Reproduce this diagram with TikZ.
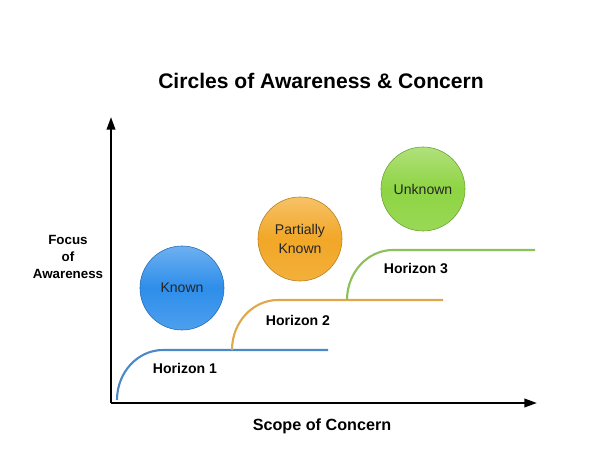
\documentclass[tikz,border=0pt]{standalone}
\usepackage{fontspec}
\setmainfont{Liberation Sans}
\usepackage{xcolor}
\usetikzlibrary{arrows.meta}
\definecolor{knownblue}{HTML}{2E8EEA}
\definecolor{partorange}{HTML}{F2A726}
\definecolor{unkgreen}{HTML}{8ED443}
\definecolor{hzblue}{HTML}{4A88C8}
\definecolor{hzorange}{HTML}{E0A84A}
\definecolor{hzgreen}{HTML}{8CC05A}
\tikzset{
	axis/.style={line width=1.6pt, -{Triangle[length=9pt,width=6pt]}},
	horizon/.style={line width=1.5pt},
	hzlabel/.style={font=\fontsize{10}{12}\selectfont\bfseries},
	ball/.style={circle, minimum size=2.1cm, inner sep=0pt, align=center,
		font=\fontsize{10}{13}\selectfont, text=black!85},
}

\begin{document}
\begin{tikzpicture}[x=0.025cm, y=-0.025cm]
				\useasboundingbox (0,0) rectangle (600,472);
				% title and axis labels
				\node[font=\fontsize{15}{18}\selectfont\bfseries] (title) at (321,81) {Circles of Awareness \& Concern};
				\node[align=center, font=\fontsize{9.5}{11.8}\selectfont\bfseries] (focus) at (68,257) {Focus\\of\\Awareness};
				\node[font=\fontsize{11.5}{14}\selectfont\bfseries] (scope) at (322,426) {Scope of Concern};
				% axes
				\coordinate (origin) at (111,403);
				\coordinate (ytop) at (111,117);
				\coordinate (xend) at (537,403);
				\draw[axis] (origin) -- (ytop);
				\draw[axis] (origin) -- (xend);
				% horizons
				\coordinate (h1a) at (117,400);
				\coordinate (h1b) at (163,350);
				\coordinate (h1c) at (328,350);
				\coordinate (h2a) at (232,350);
				\coordinate (h2b) at (278,300);
				\coordinate (h2c) at (443,300);
				\coordinate (h3a) at (347,300);
				\coordinate (h3b) at (393,250);
				\coordinate (h3c) at (535,250);
				\draw[horizon, hzblue] (h1a) .. controls (117,372) and (138,350) .. (h1b) -- (h1c);
				\draw[horizon, hzorange] (h2a) .. controls (232,322) and (253,300) .. (h2b) -- (h2c);
				\draw[horizon, hzgreen] (h3a) .. controls (347,272) and (368,250) .. (h3b) -- (h3c);
				\node[hzlabel] (hz1) at (185,368) {Horizon 1};
				\node[hzlabel] (hz2) at (298,320) {Horizon 2};
				\node[hzlabel] (hz3) at (416,268) {Horizon 3};
				% circles
				\node[ball, top color=knownblue!70!white, bottom color=knownblue!85!white, middle color=knownblue, draw=knownblue!75!black, thin] (known) at (182,288) {Known};
				\node[ball, top color=partorange!70!white, bottom color=partorange!90!white, middle color=partorange, draw=partorange!75!black, thin] (partial) at (300,239) {Partially\\Known};
				\node[ball, top color=unkgreen!70!white, bottom color=unkgreen!90!white, middle color=unkgreen, draw=unkgreen!75!black, thin] (unknown) at (423,189) {Unknown};
			\end{tikzpicture}
\end{document}
